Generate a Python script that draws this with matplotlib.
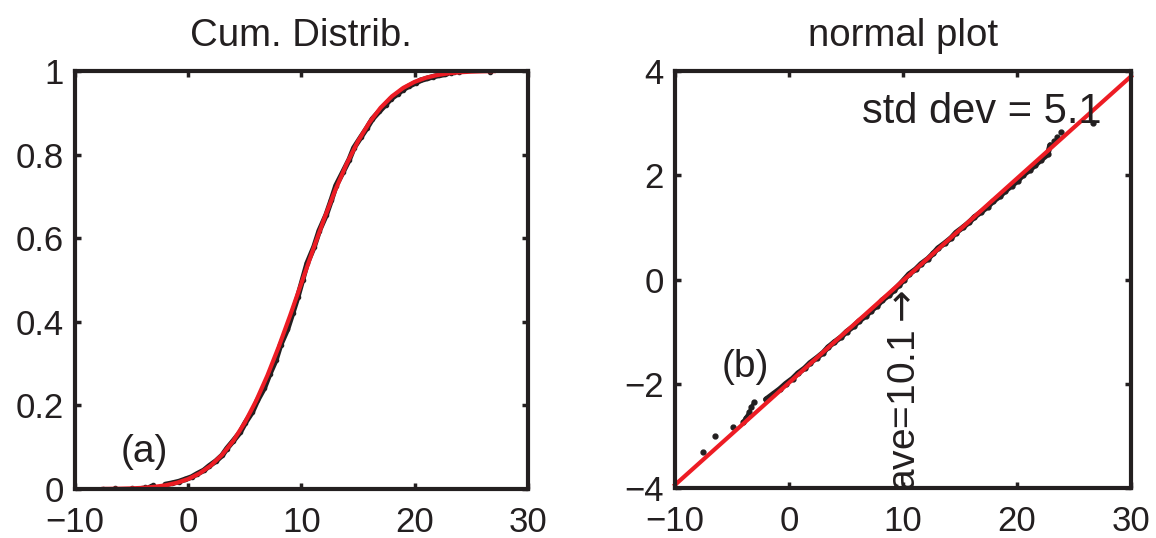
import math
import numpy as np
import matplotlib
matplotlib.use('Agg')
import matplotlib.pyplot as plt

plt.rcParams['font.family'] = ['Liberation Sans', 'DejaVu Sans']
plt.rcParams['font.size'] = 23
plt.rcParams['mathtext.fontset'] = 'dejavusans'

# sorted sample values and their normal scores
sample_x = [-7.52, -6.49, -4.94, -4.04, -3.8, -3.5, -3.3, -3.07,
            -2.03, -1.42, -0.81, -0.30, 0.31, 0.77, 1.38, 1.84, 2.45, 3.01,
            3.42, 3.98, 4.59, 5.05, 5.66, 6.12, 6.73, 7.19, 7.75, 8.16,
            8.77, 9.23, 9.69, 10.10, 10.51, 11.12, 11.58, 12.19, 12.65, 13.06,
            13.67, 14.23, 14.64, 15.25, 15.81, 16.27, 16.88, 17.44, 17.90, 18.51,
            18.97, 19.53, 20.09, 20.50, 21.11, 21.62, 22.13, 22.69,
            22.9, 23.2, 23.5, 23.9, 26.7]
sample_z = [-3.31, -3.0, -2.83, -2.73, -2.65, -2.55, -2.45, -2.35,
            -2.3, -2.2, -2.1, -2.0, -1.9, -1.8, -1.7, -1.6, -1.5, -1.4,
            -1.3, -1.2, -1.1, -1.0, -0.9, -0.8, -0.7, -0.6, -0.5, -0.4,
            -0.3, -0.2, -0.1, 0.0, 0.1, 0.2, 0.3, 0.4, 0.5, 0.6,
            0.7, 0.8, 0.9, 1.0, 1.1, 1.2, 1.3, 1.4, 1.5, 1.6,
            1.7, 1.8, 1.9, 2.0, 2.1, 2.2, 2.3, 2.4,
            2.58, 2.65, 2.73, 2.84, 3.01]

# fitted normal (ave 10.1, std 5.1), cdf values read along x
fit_cdf_x = [-7.5, -7, -6, -5, -4, -3, -2, -1, 0, 1, 2, 3, 4, 5, 6, 7, 8, 9, 10,
             11, 12, 13, 14, 15, 16, 17, 18, 19, 20, 21, 22, 23, 24, 25, 26, 27]
fit_cdf_y = [0.0003, 0.0004, 0.0008, 0.0015, 0.0028, 0.0051, 0.0088, 0.0148, 0.0238,
             0.0372, 0.0561, 0.0819, 0.1158, 0.1587, 0.2107, 0.2716, 0.3402, 0.4146,
             0.4922, 0.5700, 0.6453, 0.7152, 0.7778, 0.8317, 0.8763, 0.9120, 0.9393,
             0.9595, 0.9739, 0.9837, 0.9902, 0.9943, 0.9968, 0.9983, 0.9991, 0.9995]
fit_line_x = [-10, 30]
fit_line_z = [-3.94, 3.90]

sx = np.array(sample_x)
sz = np.array(sample_z)
sp = np.array([0.5 * (1 + math.erf(z / math.sqrt(2))) for z in sample_z])
dense = (sz > -2.32) & (sz < 2.62)
streak = (sz > -2.76) & (sz < -2.32)

ink = '#231f20'
red = '#ed1c24'

fig = plt.figure(figsize=(11.56, 5.38), dpi=100)
ax1 = fig.add_axes([0.0649, 0.0911, 0.3916, 0.777])
ax2 = fig.add_axes([0.5839, 0.0929, 0.3945, 0.775])

for ax in (ax1, ax2):
    for s in ax.spines.values():
        s.set_linewidth(3)
        s.set_color(ink)
    ax.tick_params(direction='in', length=4, width=2.5, top=True, right=True,
                   colors=ink, labelcolor=ink, labelsize=25)
    ax.tick_params(axis='x', pad=12)
    ax.tick_params(axis='y', pad=8)
    ax.set_xlim(-10, 30)
    ax.set_xticks([-10, 0, 10, 20, 30])
    ax.set_xticklabels(['\u221210', '0', '10', '20', '30'])

# left: cumulative distribution
ax1.plot(sx[dense], sp[dense], color=ink, lw=4, solid_capstyle='round')
ax1.plot(sx, sp, 'o', color=ink, ms=3)
ax1.plot(fit_cdf_x, fit_cdf_y, color=red, lw=3)
ax1.set_ylim(0, 1)
ax1.set_yticks([0, 0.2, 0.4, 0.6, 0.8, 1])
ax1.set_yticklabels(['0', '0.2', '0.4', '0.6', '0.8', '1'])
ax1.set_title('Cum. Distrib.', pad=18, color=ink)
ax1.text(-6.0, 0.088, '(a)', ha='left', va='center', color=ink, fontsize=28)

# right: normal probability plot
ax2.plot(sx[dense], sz[dense], color=ink, lw=4, solid_capstyle='round')
ax2.plot(sx[streak], sz[streak], color=ink, lw=2.5, solid_capstyle='round')
ax2.plot(sx, sz, 'o', color=ink, ms=3.5)
ax2.plot(fit_line_x, fit_line_z, color=red, lw=3, clip_on=False)
ax2.set_ylim(-4, 4)
ax2.set_yticks([-4, -2, 0, 2, 4])
ax2.set_yticklabels(['\u22124', '\u22122', '0', '2', '4'])
ax2.set_title('normal plot', pad=18, color=ink)
ax2.text(6.4, 3.22, 'std dev = 5.1', ha='left', va='center', color=ink, fontsize=30)
ax2.text(-5.9, -1.68, '(b)', ha='left', va='center', color=ink, fontsize=28)
ax2.text(10.15, -4.05, r'ave=10.1$\rightarrow$', rotation=90, ha='center', va='bottom',
         color=ink, fontsize=28, clip_on=False)

fig.savefig('out.png', dpi=100)
